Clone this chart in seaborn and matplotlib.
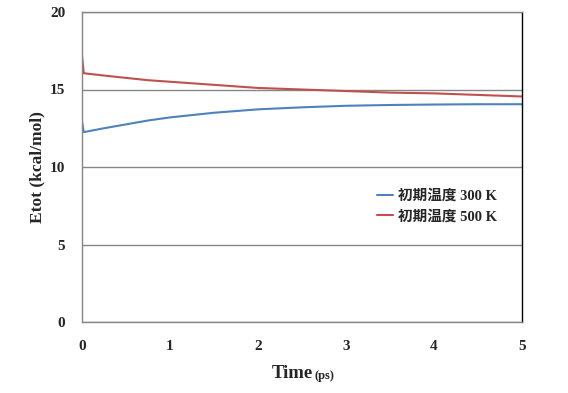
import pandas as pd
import seaborn as sns
import matplotlib.pyplot as plt

# time in ps
time_ps = [0, 0.02, 0.25, 0.5, 0.75, 1.0, 1.5, 2.0, 2.5, 3.0, 3.5, 4.0, 4.5, 5.0]
etot_300 = [12.95, 12.25, 12.5, 12.75, 13.0, 13.2, 13.5, 13.72, 13.85, 13.95, 14.0, 14.03, 14.05, 14.05]
etot_500 = [17.2, 16.05, 15.9, 15.75, 15.6, 15.5, 15.3, 15.1, 15.0, 14.9, 14.8, 14.75, 14.65, 14.55]
series_names = ['初期温度 300 K', '初期温度 500 K']

df = pd.concat([
    pd.DataFrame({'Time': time_ps, 'Etot': etot_300, 'series': series_names[0]}),
    pd.DataFrame({'Time': time_ps, 'Etot': etot_500, 'series': series_names[1]}),
])

sns.set_theme(style='white')
plt.rcParams['font.family'] = ['Liberation Serif', 'Noto Sans CJK JP']
plt.rcParams['font.weight'] = 'bold'

fig = plt.figure(figsize=(5.68, 3.93), dpi=100)
ax = fig.add_axes([82/568, 71/393, 440/568, 310/393])

sns.lineplot(data=df, x='Time', y='Etot', hue='series',
             palette=['#4F81BD', '#C0504D'], linewidth=1.5, ax=ax)

ax.set_xlim(0, 5)
ax.set_ylim(0, 20)
ax.set_xticks(range(0, 6))
ax.set_yticks(range(0, 25, 5))
ax.yaxis.grid(True, color='#868686', linewidth=1)
ax.set_axisbelow(True)

for side in ['left', 'bottom', 'top']:
    ax.spines[side].set_color('#868686')
ax.spines['right'].set_color('#000000')
for s in ax.spines.values():
    s.set_linewidth(1)

ax.tick_params(axis='x', direction='in', length=4, color='#868686', pad=13, labelsize=11)
ax.tick_params(axis='y', length=0, pad=12, labelsize=11)
for lab in ax.get_xticklabels() + ax.get_yticklabels():
    lab.set_fontweight('bold')

ax.set_xlabel('')
ax.set_ylabel('Etot (kcal/mol)', fontsize=12.5, fontweight='bold', labelpad=3)
fig.text(0.551, 0.028, 'Time', fontsize=13.5, fontweight='bold', ha='right', va='bottom')
fig.text(0.553, 0.028, '(ps)', fontsize=9, fontweight='bold', ha='left', va='bottom')

leg = ax.legend(title=None, frameon=False, loc='upper left',
                bbox_to_anchor=(364/568, 1 - 176/393), bbox_transform=fig.transFigure,
                handlelength=1.1, handletextpad=0.35, labelspacing=0.45, fontsize=10.5)
for t in leg.get_texts():
    t.set_fontweight('bold')

fig.savefig('out.png', dpi=100)
